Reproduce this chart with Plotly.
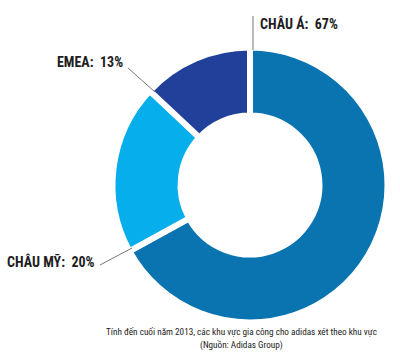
import plotly.graph_objects as go

labels = ["CHÂU Á", "CHÂU MỸ", "EMEA"]
values = [67, 20, 13]
colors = ["#0A74B0", "#06AEEC", "#21409A"]
caption_lines = [
    "Tính đến cuối năm 2013, các khu vực gia công cho adidas xét theo khu vực",
    "(Nguồn: Adidas Group)",
]

W, H = 400, 360
FONT = "Roboto Condensed, Open Sans Condensed, DejaVu Sans Condensed, sans-serif"

def px(x):
    return x / W

def py(y):
    return 1 - y / H

fig = go.Figure(go.Pie(
    labels=labels,
    values=values,
    sort=False,
    direction="clockwise",
    rotation=0,
    hole=0.505,
    textinfo="none",
    hoverinfo="label+percent",
    marker=dict(colors=colors, line=dict(color="white", width=6)),
    domain=dict(x=[px(250 - 137.5), px(250 + 137.5)], y=[py(185 + 137.5), py(185 - 137.5)]),
    showlegend=False,
))

label_pos = {
    "CHÂU Á": (258, 23, "left"),
    "EMEA": (125, 62, "right"),
    "CHÂU MỸ": (97, 261, "right"),
}
lines = {
    "CHÂU Á": ((253, 16), (253, 50)),
    "EMEA": ((128, 68), (155, 92)),
    "CHÂU MỸ": ((100, 265), (132, 248)),
}

annotations = []
shapes = []
for lab, val in zip(labels, values):
    x, y, anchor = label_pos[lab]
    annotations.append(dict(
        x=px(x), y=py(y), xref="paper", yref="paper",
        xanchor=anchor, yanchor="middle", showarrow=False,
        text=f"<b>{lab}:  {val}%</b>",
        font=dict(family=FONT, size=14, color="#1e1e1e"),
    ))
    (x0, y0), (x1, y1) = lines[lab]
    shapes.append(dict(type="line", xref="paper", yref="paper",
                       x0=px(x0), y0=py(y0), x1=px(x1), y1=py(y1),
                       line=dict(color="#777777", width=1)))

for line, yy in zip(caption_lines, [331, 345]):
    annotations.append(dict(
        x=px(241), y=py(yy), xref="paper", yref="paper",
        xanchor="center", yanchor="middle", showarrow=False,
        text=line,
        font=dict(family=FONT, size=9.2, color="#1a1a1a"),
    ))

fig.update_layout(
    width=W, height=H,
    margin=dict(l=0, r=0, t=0, b=0),
    paper_bgcolor="white",
    plot_bgcolor="white",
    annotations=annotations,
    shapes=shapes,
)

fig.write_html("out.html", config={"displayModeBar": False},
               post_script="document.body.style.margin='0';")
